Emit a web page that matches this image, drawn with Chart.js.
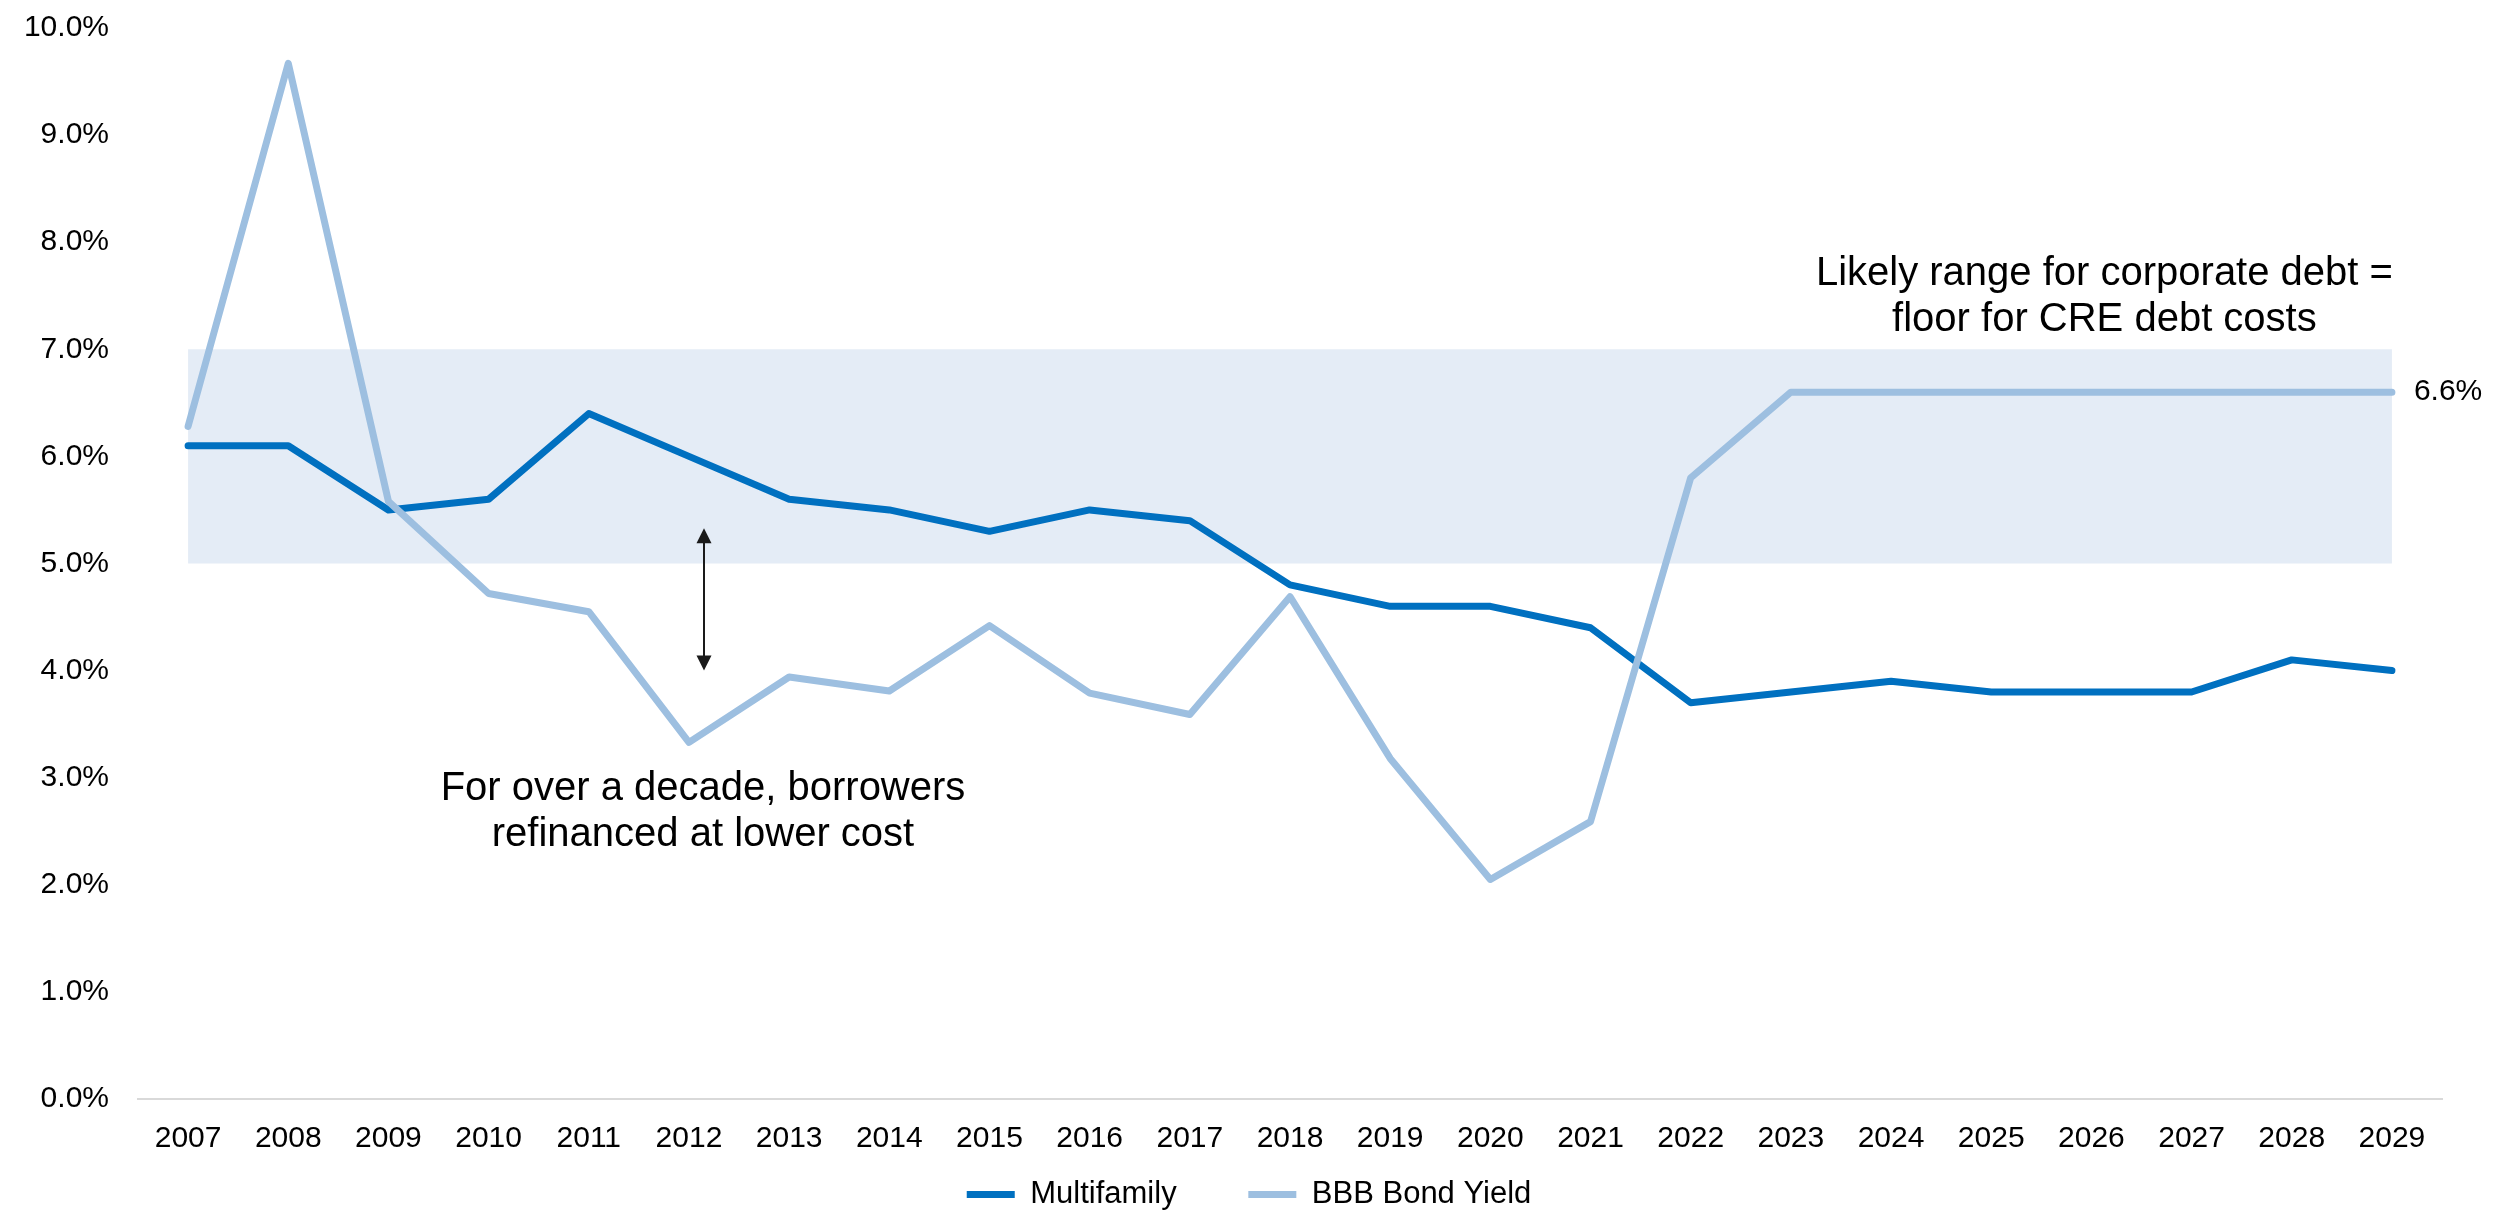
<!DOCTYPE html>
<html>
<head>
<meta charset="utf-8">
<title>Multifamily vs BBB Bond Yield</title>
<script src="https://cdn.jsdelivr.net/npm/chart.js"></script>
<style>
  body { margin: 0; background: #fff; }
  canvas { display: block; }
</style>
</head>
<body>
<canvas id="myChart" width="2504" height="1213"></canvas>
<script>
// years on the x axis, rates in percent
const years = ["2007", "2008", "2009", "2010", "2011", "2012", "2013", "2014", "2015", "2016", "2017",
  "2018", "2019", "2020", "2021", "2022", "2023", "2024", "2025", "2026", "2027", "2028", "2029"];

const multifamily = [6.1, 6.1, 5.5, 5.6, 6.4, 6.0, 5.6, 5.5, 5.3, 5.5, 5.4,
  4.8, 4.6, 4.6, 4.4, 3.7, 3.8, 3.9, 3.8, 3.8, 3.8, 4.1, 4.0];

const bbbYield = [6.28, 9.67, 5.58, 4.72, 4.55, 3.33, 3.94, 3.81, 4.42, 3.79, 3.59,
  4.69, 3.18, 2.05, 2.59, 5.80, 6.6, 6.6, 6.6, 6.6, 6.6, 6.6, 6.6];

// shaded band for corporate debt
const rangeLow = 5.0;
const rangeHigh = 7.0;

const rangeNote = ["Likely range for corporate debt =", "floor for CRE debt costs"];
const refiNote = ["For over a decade, borrowers", "refinanced at lower cost"];

// where the notes and the arrow sit (category index, percent)
const rangeNoteAt = [19.13, 7.49];
const refiNoteAt = [5.14, 2.68];
const arrowX = 5.15;
const arrowFrom = 5.33;
const arrowTo = 4.0;

const FONT = "'Liberation Sans', Arial, Helvetica, sans-serif";

function drawArrowHead(ctx, x, y, dir) {
  // dir -1 points up, 1 points down
  ctx.beginPath();
  ctx.moveTo(x, y);
  ctx.lineTo(x - 7.5, y - dir * 15);
  ctx.lineTo(x + 7.5, y - dir * 15);
  ctx.closePath();
  ctx.fill();
}

const notesPlugin = {
  id: "notes",
  afterLayout(chart) {
    // nudge the legend row a little to the right
    chart.legend.left += 28;
    chart.legend.right += 28;
  },
  afterDatasetsDraw(chart) {
    const { ctx, scales: { x, y } } = chart;
    ctx.save();

    ctx.fillStyle = "#000";
    ctx.font = "40px " + FONT;
    ctx.textAlign = "center";
    ctx.textBaseline = "middle";
    const lineH = 46;
    [[rangeNote, rangeNoteAt], [refiNote, refiNoteAt]].forEach(([lines, at]) => {
      const cx = x.getPixelForValue(at[0]);
      const cy = y.getPixelForValue(at[1]);
      lines.forEach((t, i) => {
        ctx.fillText(t, cx, cy + (i - (lines.length - 1) / 2) * lineH);
      });
    });

    // double headed arrow
    const ax = x.getPixelForValue(arrowX);
    const ay1 = y.getPixelForValue(arrowFrom);
    const ay2 = y.getPixelForValue(arrowTo);
    ctx.strokeStyle = "#1a1a1a";
    ctx.fillStyle = "#1a1a1a";
    ctx.lineWidth = 2;
    ctx.beginPath();
    ctx.moveTo(ax, ay1 + 12);
    ctx.lineTo(ax, ay2 - 12);
    ctx.stroke();
    drawArrowHead(ctx, ax, ay1, -1);
    drawArrowHead(ctx, ax, ay2, 1);

    // value label at the end of the BBB line
    const last = bbbYield.length - 1;
    ctx.fillStyle = "#000";
    ctx.font = "30px " + FONT;
    ctx.textAlign = "left";
    ctx.fillText(bbbYield[last].toFixed(1) + "%", x.getPixelForValue(last) + 22, y.getPixelForValue(bbbYield[last]));

    ctx.restore();
  }
};

const datasets = [
  {
    label: "Multifamily",
    data: multifamily,
    borderColor: "#0070C0",
    backgroundColor: "#0070C0",
    borderWidth: 7,
    borderCapStyle: "round",
    borderJoinStyle: "round",
    pointRadius: 0,
    tension: 0,
    fill: false,
    order: 1
  },
  {
    label: "BBB Bond Yield",
    data: bbbYield,
    borderColor: "#9DBFE0",
    backgroundColor: "#9DBFE0",
    borderWidth: 7,
    borderCapStyle: "round",
    borderJoinStyle: "round",
    pointRadius: 0,
    tension: 0,
    fill: false,
    order: 0
  },
  {
    label: "range",
    data: years.map(() => rangeHigh),
    borderWidth: 0,
    borderColor: "rgba(0,0,0,0)",
    backgroundColor: "#E4ECF6",
    pointRadius: 0,
    fill: { value: rangeLow },
    order: 2
  }
];

// default legend items, with a wider gap after the first one
const legendLabels = (chart) => {
  const items = Chart.defaults.plugins.legend.labels.generateLabels(chart);
  items.forEach((it) => { if (it.datasetIndex === 0) it.text += "      "; });
  return items;
};

new Chart(document.getElementById("myChart"), {
  type: "line",
  data: { labels: years, datasets },
  options: {
    responsive: false,
    animation: false,
    layout: { padding: { top: 28, right: 62, left: 0, bottom: -7 } },
    plugins: {
      legend: {
        position: "bottom",
        labels: {
          usePointStyle: true,
          pointStyle: "line",
          pointStyleWidth: 48,
          padding: 20,
          color: "#000",
          font: { family: FONT, size: 31 },
          generateLabels: legendLabels,
          filter: (item) => item.datasetIndex < 2,
          sort: (a, b) => a.datasetIndex - b.datasetIndex
        }
      },
      tooltip: { enabled: false }
    },
    scales: {
      x: {
        offset: true,
        grid: { display: false, drawTicks: false },
        border: { color: "#d9d9d9", width: 2 },
        ticks: { color: "#000", font: { family: FONT, size: 30 }, padding: 22, maxRotation: 0 },
        afterFit: (s) => { s.height = 60; }
      },
      y: {
        min: 0,
        max: 10,
        grid: { display: false, drawTicks: false },
        border: { display: false },
        ticks: {
          stepSize: 1,
          color: "#000",
          font: { family: FONT, size: 30 },
          padding: 29,
          callback: (v) => v.toFixed(1) + "%"
        },
        afterFit: (s) => {
          s.width = 138;
          s.paddingTop = 0;
          s.paddingBottom = 0;
        }
      }
    }
  },
  plugins: [notesPlugin]
});
</script>
</body>
</html>
